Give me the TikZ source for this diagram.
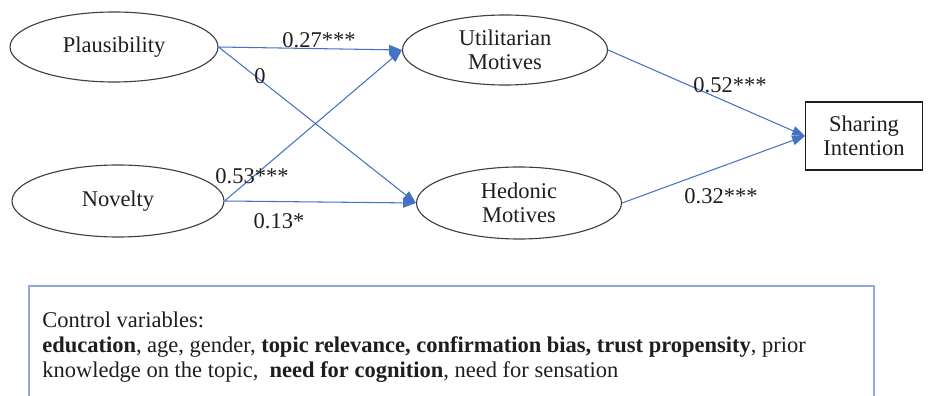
\documentclass[tikz,border=0pt]{standalone}
\usepackage{fontspec}
\setmainfont{Liberation Serif}
\usepackage{tikz}
\usetikzlibrary{arrows.meta,shapes.geometric}
\definecolor{pathBlue}{RGB}{68,114,196}
\definecolor{boxBlue}{RGB}{143,170,220}
\definecolor{textDark}{RGB}{30,30,30}

\tikzset{
  latent/.style={ellipse, draw=textDark!85, line width=0.8pt, inner sep=0pt,
    align=center, font=\fontsize{16}{17}\selectfont},
  observed/.style={rectangle, draw=textDark, line width=0.8pt, inner sep=0pt,
    align=center, font=\fontsize{16}{17}\selectfont},
  path/.style={draw=pathBlue, line width=0.75pt,
    -{Triangle[length=3.2mm,width=2.4mm]}},
  coef/.style={font=\fontsize{16}{17}\selectfont, inner sep=0pt}
}

\begin{document}
\begin{tikzpicture}[every node/.style={text=textDark}]
\useasboundingbox (0,0) rectangle (23.225, 9.9);

% Predictors
\node[latent, minimum width=5.2cm, minimum height=1.75cm] (plaus) at (2.85, 8.725) {Plausibility};
\node[latent, minimum width=5.3cm, minimum height=1.8cm] (novel) at (2.95, 4.875) {Novelty};

% Motives
\node[latent, minimum width=5.125cm, minimum height=1.75cm] (util) at (12.625, 8.65)
    {Utilitarian\\Motives};
\node[latent, minimum width=5.125cm, minimum height=1.8cm] (hedon) at (12.975, 4.825)
    {Hedonic\\Motives};

% Outcome
\node[observed, minimum width=2.925cm, minimum height=1.7cm] (share) at (21.6, 6.5)
    {Sharing\\Intention};

% Paths
\draw[path] (plaus.east) -- (util.west);
\draw[path] (plaus.east) -- (hedon.west);
\draw[path] (novel.east) -- (util.west);
\draw[path] (novel.east) -- (hedon.west);
\draw[path] (util.east) -- (share.west);
\draw[path] (hedon.east) -- (share.west);

% Coefficients
\node[coef] (c27) at (7.975, 8.9) {0.27***};
\node[coef] (c0) at (6.5, 8.0) {0};
\node[coef] (c53) at (6.3, 5.5) {0.53***};
\node[coef] (c13) at (6.975, 4.375) {0.13*};
\node[coef] (c52) at (18.25, 7.775) {0.52***};
\node[coef] (c32) at (18.025, 5.0) {0.32***};

% Control variables
\draw[boxBlue, line width=0.8pt] (0.725, -0.3) rectangle (21.85, 2.75);
\node[anchor=north west, align=left, inner sep=0pt,
    font=\fontsize{16}{17.8}\selectfont] (ctrl) at (1.05, 2.1)
    {Control variables:\\
     \textbf{education}, age, gender, \textbf{topic relevance, confirmation bias, trust propensity}, prior\\
     knowledge on the topic,\ \ \textbf{need for cognition}, need for sensation};

\end{tikzpicture}
\end{document}
